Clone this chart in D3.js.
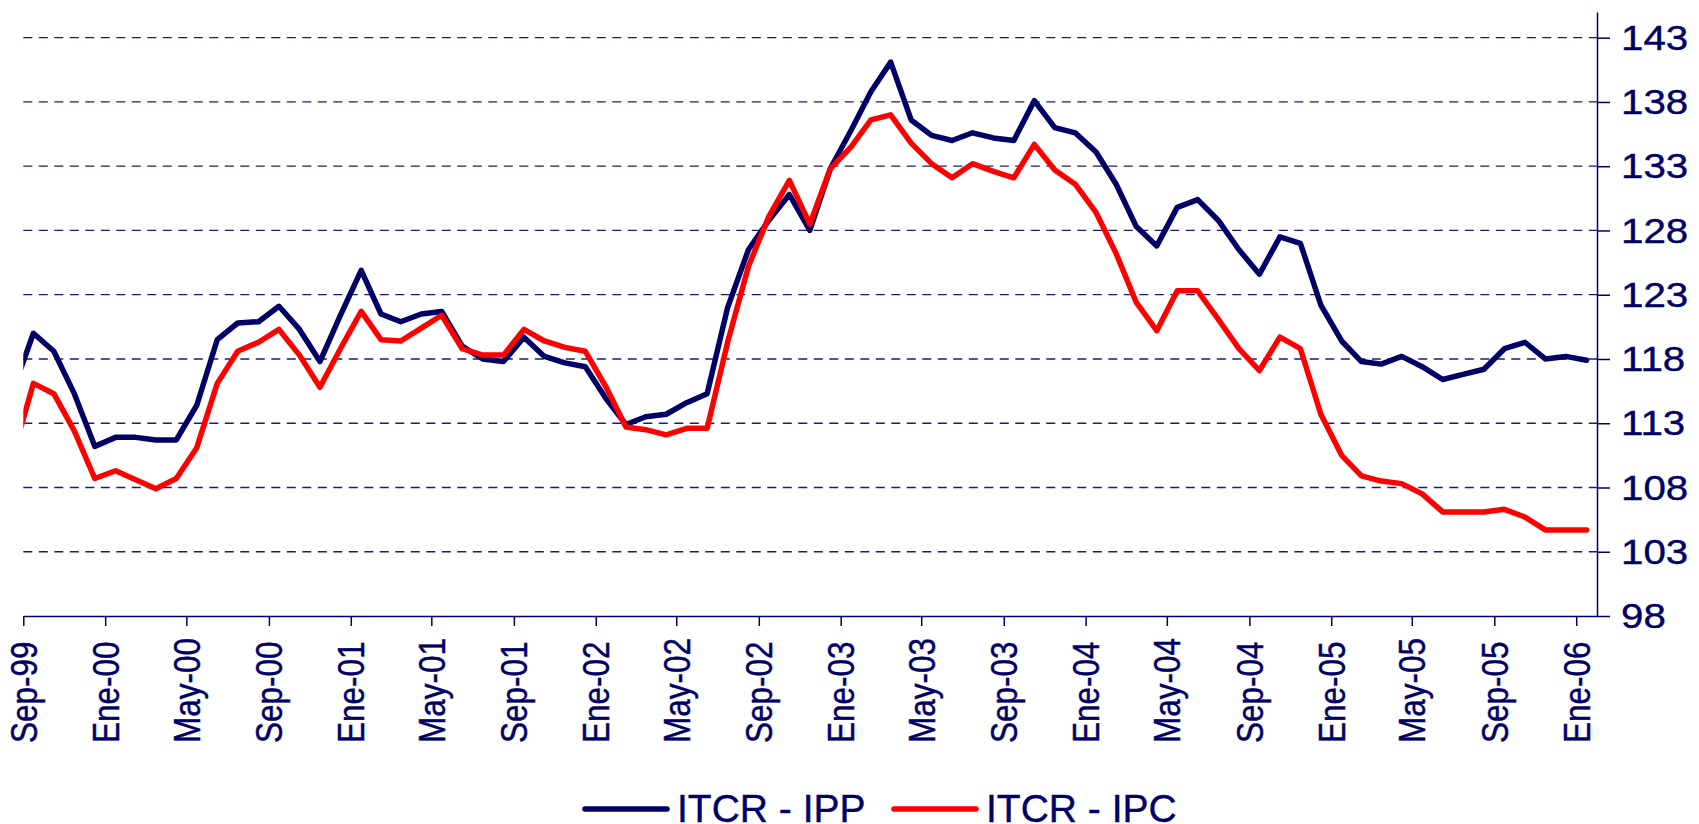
<!DOCTYPE html>
<html>
<head>
<meta charset="utf-8">
<script src="https://cdn.jsdelivr.net/npm/d3@7/dist/d3.min.js"></script>
<style>
  body { margin: 0; background: #fff; }
  svg { display: block; font-family: "Liberation Sans", Arial, sans-serif; }
  text { stroke: #000066; stroke-width: 0.4px; }
</style>
</head>
<body>
<svg></svg>
<script>
var width = 1699;
var height = 824;
var navy = "#000066";

// months from Ago-99 to Ene-06 (the first one falls outside the plot and is clipped)
var months = d3.timeMonth.range(new Date(1999, 7, 1), new Date(2006, 1, 1));
var mesES = ["Ene", "Feb", "Mar", "Abr", "May", "Jun", "Jul", "Ago", "Sep", "Oct", "Nov", "Dic"];
var yTicks = [98, 103, 108, 113, 118, 123, 128, 133, 138, 143];

var ipp = [115.5,
  120.0, 118.6, 115.3, 111.2, 111.9, 111.9, 111.7, 111.7, 114.4, 119.5, 120.8, 120.9,
  122.1, 120.3, 117.8, 121.4, 124.9, 121.5, 120.9, 121.5, 121.7, 119.0, 118.0, 117.8,
  119.7, 118.2, 117.7, 117.4, 114.9, 112.9, 113.5, 113.7, 114.6, 115.3, 122.0, 126.5,
  128.8, 130.8, 128.0, 132.8, 135.8, 138.8, 141.1, 136.6, 135.4, 135.0, 135.6, 135.2,
  135.0, 138.1, 136.0, 135.6, 134.1, 131.6, 128.3, 126.8, 129.8, 130.4, 128.8, 126.5,
  124.6, 127.5, 127.0, 122.2, 119.4, 117.8, 117.6, 118.2, 117.4, 116.4, 116.8, 117.2,
  118.8, 119.3, 118.0, 118.2, 117.9];

var ipc = [110.5,
  116.1, 115.3, 112.4, 108.7, 109.3, 108.6, 107.9, 108.7, 111.1, 116.1, 118.6, 119.3,
  120.3, 118.3, 115.8, 118.8, 121.7, 119.5, 119.4, 120.4, 121.4, 118.8, 118.3, 118.3,
  120.3, 119.4, 118.9, 118.6, 115.8, 112.7, 112.5, 112.1, 112.6, 112.6, 119.3, 125.2,
  129.1, 131.9, 128.5, 132.8, 134.5, 136.6, 137.0, 134.8, 133.2, 132.1, 133.2, 132.6,
  132.1, 134.7, 132.7, 131.6, 129.4, 126.2, 122.4, 120.2, 123.3, 123.3, 121.1, 118.8,
  117.1, 119.7, 118.8, 113.7, 110.5, 108.9, 108.5, 108.3, 107.5, 106.1, 106.1, 106.1,
  106.3, 105.7, 104.7, 104.7, 104.7];

var series = [
  { name: "ITCR - IPP", color: navy, values: ipp },
  { name: "ITCR - IPC", color: "#ff0000", values: ipc }
];

var plotLeft = 23.3;
var plotRight = 1597;
var plotTop = 12;
var plotBottom = 616;

// prettier-ignore
var svg = d3.select("svg")
            .attr("width", width)
            .attr("height", height);

// prettier-ignore
var xScale = d3.scaleTime()
               .domain([new Date(1999, 8, 1), new Date(2006, 1, 1)])
               .range([plotLeft, plotRight]);

// prettier-ignore
var yScale = d3.scaleLinear()
               .domain([98, 145])
               .range([plotBottom, plotTop]);

// points sit in the middle of each month
function midMonth(m) {
  return new Date((+m + +d3.timeMonth.offset(m, 1)) / 2);
}

// prettier-ignore
svg.append("clipPath")
    .attr("id", "plot")
  .append("rect")
    .attr("x", plotLeft)
    .attr("y", 0)
    .attr("width", plotRight - plotLeft)
    .attr("height", plotBottom);

// dashed gridlines
// prettier-ignore
svg.append("g")
  .selectAll("line")
  .data(yTicks.slice(1))
  .enter()
  .append("line")
    .attr("x1", plotLeft)
    .attr("x2", plotRight)
    .attr("y1", d => yScale(d))
    .attr("y2", d => yScale(d))
    .attr("stroke", "#1a1a80")
    .attr("stroke-width", 1.3)
    .attr("stroke-dasharray", "9,6.5");

// x axis
var xTickDates = d3.timeMonth.every(4).range(new Date(1999, 8, 1), new Date(2006, 0, 2));

// prettier-ignore
var xAxis = svg.append("g")
   .attr("transform", "translate(0," + plotBottom + ")")
   .call(d3.axisBottom(xScale)
           .tickValues(xTickDates)
           .tickSizeInner(10)
           .tickSizeOuter(0)
           .tickFormat(d => mesES[d.getMonth()] + "-" + d3.timeFormat("%y")(d)));

xAxis.selectAll("path, line").attr("stroke", navy).attr("stroke-width", 1.5);

// prettier-ignore
xAxis.selectAll("text")
     .attr("x", null)
     .attr("y", null)
     .attr("dy", "0.36em")
     .attr("text-anchor", "start")
     .attr("transform", "translate(0,127) scale(1.15,1) rotate(-90)")
     .attr("fill", navy)
     .style("font-size", "31.5px");

// y axis on the right
// prettier-ignore
var yAxis = svg.append("g")
   .attr("transform", "translate(" + plotRight + ",0)")
   .call(d3.axisRight(yScale)
           .tickValues(yTicks)
           .tickSizeInner(13)
           .tickSizeOuter(0)
           .tickFormat(d3.format("d")));

yAxis.selectAll("path, line").attr("stroke", navy).attr("stroke-width", 1.5);

// prettier-ignore
yAxis.selectAll("text")
     .attr("x", null)
     .attr("dy", "0.35em")
     .attr("text-anchor", "start")
     .attr("transform", "translate(24,-1) scale(1.12,1)")
     .attr("fill", navy)
     .style("font-size", "36px");

// lines
// prettier-ignore
var line = d3.line()
             .x((d, i) => xScale(midMonth(months[i])))
             .y(d => yScale(d));

// prettier-ignore
svg.append("g")
   .attr("clip-path", "url(#plot)")
  .selectAll("path")
  .data(series)
  .enter()
  .append("path")
    .attr("d", d => line(d.values))
    .attr("fill", "none")
    .attr("stroke", d => d.color)
    .attr("stroke-width", 5.5)
    .attr("stroke-linejoin", "round")
    .attr("stroke-linecap", "round");

// legend
var legendX = [585, 894];

// prettier-ignore
var legend = svg.append("g")
  .selectAll("g")
  .data(series)
  .enter()
  .append("g")
    .attr("transform", (d, i) => "translate(" + legendX[i] + ",809)");

// prettier-ignore
legend.append("line")
      .attr("x1", 0)
      .attr("x2", 82)
      .attr("stroke", d => d.color)
      .attr("stroke-width", 5.5)
      .attr("stroke-linecap", "round");

// prettier-ignore
legend.append("text")
      .attr("x", 92)
      .attr("y", 13)
      .attr("fill", navy)
      .style("font-size", "39px")
      .text(d => d.name);
</script>
</body>
</html>
